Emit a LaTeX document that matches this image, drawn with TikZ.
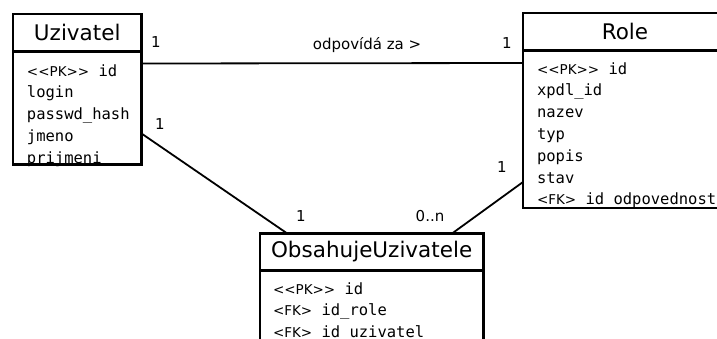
\documentclass[tikz,border=0pt]{standalone}
\usepackage{fontspec}
\usetikzlibrary{positioning}
\newfontfamily\headfont{DejaVu Sans}
\newfontfamily\labelfont{DejaVu Sans}
\newfontfamily\fieldfont{DejaVu Sans Mono}
\newcommand{\pk}{{\fontsize{13.5}{13.5}\labelfont<\kern0pt<PK>\kern0pt>}}
\newcommand{\fk}{{\fontsize{13.5}{13.5}\labelfont<FK>}}

\begin{document}
\begin{tikzpicture}[
  x=1pt,y=-1pt,
  classHead/.style={draw,line width=2.5pt,inner sep=0pt,outer sep=0pt,font=\fontsize{21.5}{26}\headfont},
  classBody/.style={draw,line width=2.5pt,inner sep=0pt,outer sep=0pt},
  every matrix/.style={row sep={21.8pt,between origins},inner sep=0pt,outer sep=0pt},
  field/.style={anchor=base west,inner sep=0pt,text height=11pt,text depth=3pt,font=\fontsize{15.5}{18}\fieldfont},
  assoc/.style={line width=1.8pt},
  mult/.style={anchor=base,inner sep=0pt,font=\fontsize{15}{18}\labelfont}]

  \path[use as bounding box] (0,0) rectangle (717,338);
  \clip (0,0) rectangle (717,338);

  % the classes
  \node[classHead,anchor=north west,minimum width=128.5pt,minimum height=37.5pt] (uzHead) at (13,14) {Uzivatel};
  \node[classBody,minimum width=128.5pt,minimum height=113pt,below=0pt of uzHead] (uzBody) {};

  \node[classHead,anchor=north west,minimum width=204pt,minimum height=37.7pt] (roHead) at (523,12.8) {Role};
  \node[classBody,minimum width=204pt,minimum height=157.5pt,below=0pt of roHead] (roBody) {};

  \node[classHead,anchor=north west,minimum width=223.3pt,minimum height=37pt] (obHead) at (260,233.3) {ObsahujeUzivatele};
  \node[classBody,minimum width=223.3pt,minimum height=90pt,below=0pt of obHead] (obBody) {};

  % attributes
  \matrix (uzFields) [below right=13.5pt and 14pt of uzBody.north west] {
    \node[field] (uzId) {\pk{} id}; \\
    \node[field] (uzLogin) {login}; \\
    \node[field] (uzHash) {passwd\_hash}; \\
    \node[field] (uzJmeno) {jmeno}; \\
    \node[field] (uzPrijmeni) {prijmeni}; \\
  };

  \matrix (roFields) [below right=12.5pt and 14pt of roBody.north west] {
    \node[field] (roId) {\pk{} id}; \\
    \node[field] (roXpdl) {xpdl\_id}; \\
    \node[field] (roNazev) {nazev}; \\
    \node[field] (roTyp) {typ}; \\
    \node[field] (roPopis) {popis}; \\
    \node[field] (roStav) {stav}; \\
    \node[field] (roOdp) {\fk{} id\_odpovednost}; \\
  };

  \matrix (obFields) [below right=12.7pt and 13pt of obBody.north west] {
    \node[field] (obId) {\pk{} id}; \\
    \node[field] (obRole) {\fk{} id\_role}; \\
    \node[field] (obUziv) {\fk{} id\_uzivatel}; \\
  };

  % associations
  \draw[assoc] ([yshift=-12pt]uzBody.north east) -- ([yshift=-12.5pt]roBody.north west);
  \draw[assoc] ([yshift=-82pt]uzBody.north east) -- ([xshift=27pt]obHead.north west);
  \draw[assoc] ([yshift=-131.5pt]roBody.north west) -- ([xshift=-31pt]obHead.north east);

  % multiplicities and role name
  \node[mult] (uzOdp) at (156,47) {1};
  \node[mult] (roOdpMult) at (507,48) {1};
  \node[mult] (odpName) at (367,49) {odpovídá za >};
  \node[mult] (uzOb) at (160,129) {1};
  \node[mult] (obUz) at (301,221) {1};
  \node[mult] (obRo) at (430,221) {0..n};
  \node[mult] (roOb) at (502,172) {1};
\end{tikzpicture}
\end{document}
